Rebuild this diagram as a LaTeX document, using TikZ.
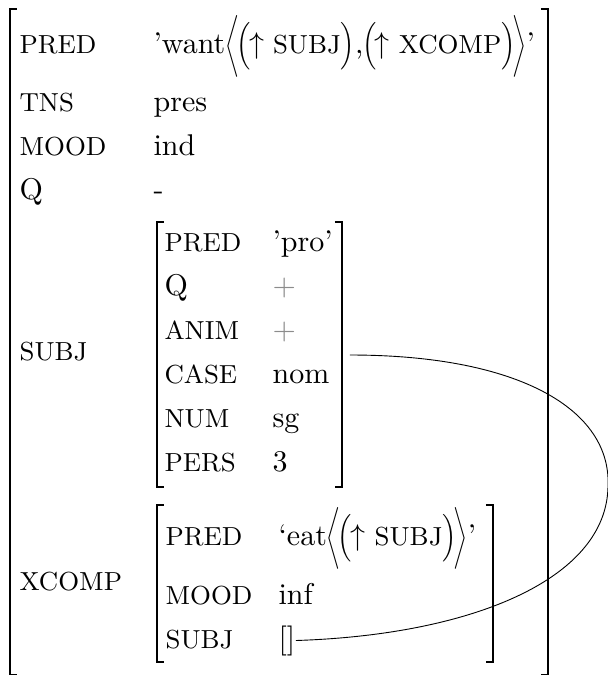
\documentclass[tikz,border=0pt]{standalone}
\usepackage{amsmath}
\usepackage{graphicx}
\definecolor{plusgray}{gray}{0.55}
\newcommand{\fsla}{\scalebox{0.62}[0.86]{$\bigg\langle$}}
\newcommand{\fsra}{\scalebox{0.62}[0.86]{$\bigg\rangle$}}
\newcommand{\fslp}{\scalebox{0.8}[0.88]{$\Big($}\kern-0.5pt}
\newcommand{\fsrp}{\scalebox{0.8}[0.88]{$\Big)$}}
\newcommand{\fsup}{$\uparrow$\hspace{3pt}}
\newcommand{\fsatt}[1]{{\fontsize{8.7}{10}\selectfont #1}}
\begin{document}
\begin{tikzpicture}[x=0.3333pt,y=-0.3333pt,
  lab/.style={inner sep=0pt, anchor=base west, font=\fontsize{8.7}{10}\selectfont},
  qlab/.style={inner sep=0pt, anchor=base west, font=\normalsize},
  val/.style={inner sep=0pt, anchor=base west, font=\normalsize},
  brk/.style={line width=0.55pt},
  link/.style={line width=0.3pt}]
\useasboundingbox (0,0) rectangle (608,675);
% outer bracket
\draw[brk] (17,9) -- (10,9) -- (10,674.5) -- (17,674.5);
\draw[brk] (541,9) -- (548,9) -- (548,674.5) -- (541,674.5);
% outer labels
\node[lab] (lpred) at (19,53) {PRED};
\node[lab] (ltns) at (19,111) {TNS};
\node[lab] (lmood) at (19,155) {MOOD};
\node[qlab] (lq) at (19,199) {Q};
\node[lab] (lsubj) at (19,360) {SUBJ};
\node[lab] (lxcomp) at (19,590) {XCOMP};
% outer values
\node[val] (vpred) at (153,53) {'want\fsla\kern-1pt\fslp\fsup\fsatt{SUBJ}\fsrp,\kern-0.5pt\fslp\fsup\fsatt{XCOMP}\fsrp\kern-1pt\fsra'};
\node[val] (vtns) at (153,111) {pres};
\node[val] (vmood) at (153,155) {ind};
\node[val] (vq) at (153,199) {-};
% inner subj f-structure
\draw[brk] (164,222) -- (157,222) -- (157,487) -- (164,487);
\draw[brk] (335,222) -- (342,222) -- (342,487) -- (335,487);
\node[lab] (spred) at (164,251) {PRED};
\node[qlab] (sq) at (164,295) {Q};
\node[lab] (sanim) at (164,339) {ANIM};
\node[lab] (scase) at (164,383) {CASE};
\node[lab] (snum) at (164,427) {NUM};
\node[lab] (spers) at (164,471) {PERS};
\node[val] (svpred) at (272,251) {'pro'};
\node[val, text=plusgray] (svq) at (272,295) {$+$};
\node[val, text=plusgray] (svanim) at (272,339) {$+$};
\node[val] (svcase) at (272,383) {nom};
\node[val] (svnum) at (272,427) {sg};
\node[val] (svpers) at (272,471) {3};
\coordinate (subjout) at (350,355);
% xcomp f-structure
\draw[brk] (164,505) -- (157,505) -- (157,662) -- (164,662);
\draw[brk] (486,505) -- (493,505) -- (493,662) -- (486,662);
\node[lab] (xpred) at (165,545) {PRED};
\node[lab] (xmood) at (165,604) {MOOD};
\node[lab] (xsubj) at (165,648) {SUBJ};
\node[val] (xvpred) at (278,545) {`eat\fsla\kern-1pt\fslp\fsup\fsatt{SUBJ}\fsrp\kern-1pt\fsra'};
\node[val] (xvmood) at (278,604) {inf};
\node[val] (xvsubj) at (278,648) {[]};
% control link
\coordinate (turn) at (608,487);
\draw[link] (subjout) .. controls (520,355) and (612,410) .. (turn)
  .. controls (606,580) and (470,635) .. (xvsubj.east);
\end{tikzpicture}
\end{document}
